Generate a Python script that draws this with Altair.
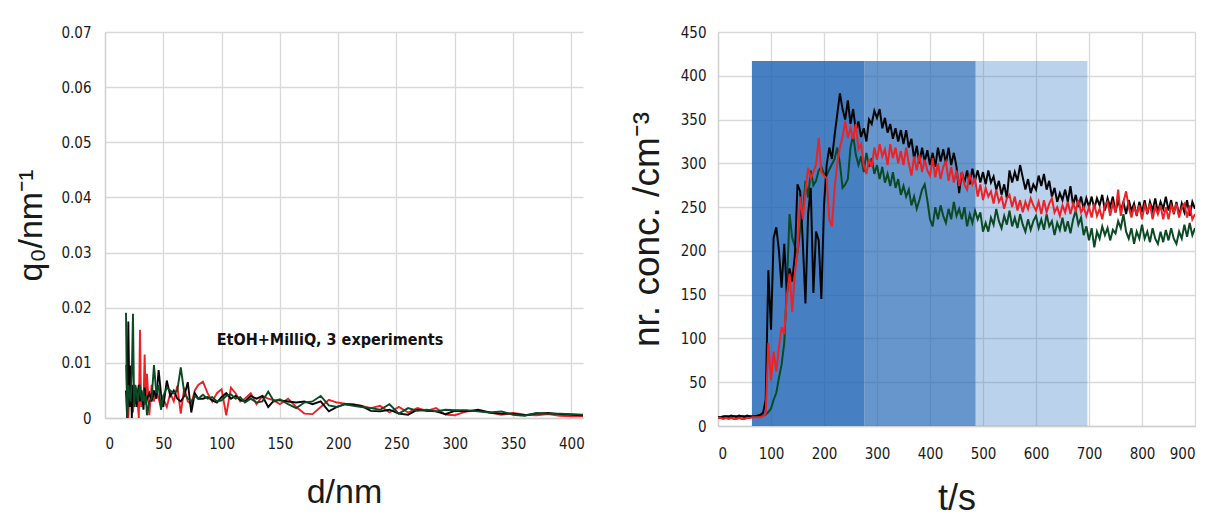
import altair as alt
import pandas as pd

# ---------------- left panel: q0 vs d ----------------
D_NM = [18, 19, 20, 21, 22, 23, 24, 25, 26, 27, 28, 29, 30, 31, 32, 33, 34, 35, 36,
        38, 40, 42, 44, 46, 48, 50,
        53, 56, 59, 62, 65, 68, 71, 74, 77, 80,
        84, 88, 92, 96, 100, 104, 108, 112, 116, 120,
        125, 130, 135, 140, 145, 150,
        157, 164, 171, 178, 185, 192, 199, 206, 213,
        220, 228, 236, 244, 252, 260, 268, 276, 284, 292, 300,
        310, 320, 330, 340, 350, 360, 370, 380, 390, 400, 410]

Q_BLACK = [0.005, 0.0, 0.0175, 0.002, 0.0095, 0.0, 0.006, 0.003, 0.005, 0.002, 0.0045, 0.006, 0.003, 0.005, 0.004, 0.0015, 0.0055, 0.0025, 0.0035,
           0.0045, 0.003, 0.005, 0.0035, 0.0087, 0.0045, 0.002,
           0.0068, 0.004, 0.005, 0.0035, 0.003, 0.004, 0.0065, 0.001, 0.0045, 0.0035,
           0.0035, 0.0038, 0.0032, 0.0028, 0.0038, 0.0045, 0.0035, 0.004, 0.0033, 0.003,
           0.004, 0.0035, 0.004, 0.002, 0.0032, 0.0032,
           0.003, 0.0028, 0.003, 0.0025, 0.003, 0.0012, 0.002, 0.0025, 0.0024,
           0.0022, 0.0013, 0.0012, 0.0015, 0.0008, 0.0006, 0.0015, 0.0013, 0.0012, 0.0007, 0.0013,
           0.0012, 0.0015, 0.001, 0.0008, 0.0008, 0.0005, 0.0008, 0.0009, 0.0007, 0.0006, 0.0005]

Q_RED = [0.0096, 0.004, 0.0, 0.005, 0.002, 0.006, 0.001, 0.004, 0.0025, 0.005, 0.003, 0.0, 0.016, 0.002, 0.004, 0.0025, 0.0115, 0.003, 0.008,
         0.0005, 0.006, 0.003, 0.005, 0.0035, 0.002, 0.0035,
         0.002, 0.0045, 0.003, 0.0058, 0.0008, 0.0055, 0.003, 0.0025, 0.005, 0.006,
         0.0066, 0.0045, 0.003, 0.0045, 0.0052, 0.0005, 0.0055, 0.0045, 0.003, 0.0035,
         0.0045, 0.0025, 0.004, 0.0035, 0.0032, 0.0025,
         0.0035, 0.002, 0.0008, 0.0007, 0.002, 0.0033, 0.0028, 0.0026, 0.0025,
         0.0022, 0.0018, 0.0022, 0.001, 0.002, 0.001, 0.0018, 0.0013, 0.0018, 0.0006, 0.0005,
         0.0012, 0.0013, 0.001, 0.0006, 0.0009, 0.0006, 0.0005, 0.0007, 0.0004, 0.0003, 0.0003]

Q_GREEN = [0.0191, 0.0, 0.006, 0.004, 0.003, 0.008, 0.0189, 0.002, 0.006, 0.005, 0.003, 0.0045, 0.006, 0.004, 0.003, 0.005, 0.0025, 0.004, 0.0005,
           0.003, 0.0035, 0.0096, 0.0045, 0.006, 0.0015, 0.004,
           0.0055, 0.005, 0.0045, 0.005, 0.0092, 0.0045, 0.0035, 0.003, 0.004, 0.0035,
           0.0042, 0.0035, 0.0038, 0.003, 0.0032, 0.004, 0.0043, 0.0035, 0.0038, 0.0028,
           0.0035, 0.0028, 0.003, 0.0048, 0.003, 0.0034,
           0.0025, 0.0018, 0.0028, 0.003, 0.004, 0.0023, 0.002, 0.0025, 0.0022,
           0.002, 0.0018, 0.0015, 0.0025, 0.0008, 0.0018, 0.0013, 0.0015, 0.0012, 0.0015, 0.0014,
           0.0014, 0.0012, 0.001, 0.0012, 0.0006, 0.0004, 0.0009, 0.0008, 0.0008, 0.0007, 0.0006]

LEFT_X_TICKS = [0, 50, 100, 150, 200, 250, 300, 350, 400]
LEFT_Y_TICKS = [0, 0.01, 0.02, 0.03, 0.04, 0.05, 0.06, 0.07]
ANNOT_TEXT = ["EtOH+MilliQ, 3 experiments"]
ANNOT_D = [193]
ANNOT_Q = [0.0141]

# ---------------- right panel: number concentration vs t ----------------
T_S = list(range(0, 905, 5))

C_BLACK = [10, 10, 11, 11, 11, 12, 11, 11, 12, 11,
           11, 12, 11, 11, 11, 12, 13, 15, 30, 178,
           110, 215, 227, 200, 158, 208, 150, 180, 165, 195,
           276, 268, 210, 140, 242, 272, 152, 222, 212, 145,
           252, 298, 318, 305, 332, 356, 380, 362, 350, 372,
           345, 362, 338, 348, 330, 340, 325, 350, 345, 360,
           352, 362, 340, 352, 335, 345, 328, 340, 325, 338,
           322, 338, 318, 328, 305, 320, 300, 318, 302, 315,
           298, 312, 296, 318, 302, 316, 300, 318, 298, 312,
           296, 266, 290, 278, 292, 276, 294, 280, 292, 278,
           290, 276, 292, 278, 285, 270, 280, 264, 276, 260,
           292, 278, 290, 280, 298, 284, 270, 282, 266, 276,
           270, 286, 274, 288, 270, 280, 262, 272, 256, 266,
           258, 270, 256, 274, 252, 264, 250, 262, 248, 260,
           250, 262, 248, 260, 252, 264, 246, 260, 250, 262,
           244, 258, 246, 256, 242, 258, 246, 254, 240, 256,
           244, 258, 242, 256, 246, 260, 244, 256, 248, 262,
           246, 258, 242, 256, 240, 254, 244, 258, 240, 256,
           248]

C_RED = [9, 9, 8, 9, 8, 9, 8, 8, 9, 8,
         8, 9, 9, 10, 10, 10, 10, 11, 14, 95,
         52, 85, 62, 90, 113, 105, 150, 174, 130, 175,
         198, 262, 236, 268, 295, 283, 290, 299, 329, 290,
         286, 283, 236, 228, 272, 300, 318, 330, 348, 329,
         340, 328, 345, 316, 322, 298, 288, 305, 296, 318,
         304, 322, 308, 316, 298, 322, 306, 318, 300, 314,
         298, 318, 300, 286, 308, 292, 310, 290, 304, 292,
         286, 306, 284, 300, 282, 296, 302, 280, 296, 278,
         292, 274, 290, 276, 270, 288, 276, 282, 262, 276,
         258, 272, 262, 268, 254, 270, 256, 262, 248, 260,
         264, 250, 262, 246, 258, 244, 256, 248, 260, 252,
         246, 256, 242, 258, 244, 254, 260, 244, 250, 240,
         252, 244, 256, 242, 254, 246, 258, 244, 250, 240,
         250, 238, 254, 240, 248, 236, 252, 256, 240, 254,
         244, 270, 240, 256, 268, 250, 238, 250, 242, 252,
         236, 252, 244, 254, 236, 250, 242, 252, 236, 250,
         236, 252, 244, 254, 238, 250, 254, 238, 252, 236,
         242]

C_GREEN = [10, 10, 10, 11, 10, 10, 11, 10, 10, 11,
           10, 10, 11, 10, 11, 11, 12, 12, 13, 16,
           20, 30, 38, 55, 70, 95, 160, 242, 215, 205,
           197, 225, 242, 280, 261, 292, 275, 280, 292, 296,
           288, 286, 293, 299, 305, 318, 300, 272, 276, 282,
           318, 332, 310, 298, 308, 290, 312, 296, 306, 288,
           298, 282, 296, 278, 288, 274, 290, 272, 282, 264,
           274, 262, 270, 252, 262, 248, 258, 270, 276, 258,
           236, 228, 250, 236, 252, 240, 232, 248, 236, 256,
           240, 248, 236, 250, 228, 242, 232, 246, 236, 244,
           222, 232, 222, 238, 230, 248, 234, 226, 240, 230,
           246, 228, 238, 226, 242, 230, 222, 236, 224, 234,
           240, 226, 236, 224, 242, 228, 234, 218, 232, 224,
           238, 222, 234, 220, 236, 246, 230, 238, 218, 228,
           212, 226, 204, 222, 214, 228, 218, 226, 212, 224,
           220, 234, 226, 242, 222, 214, 226, 208, 222, 214,
           230, 214, 222, 210, 226, 214, 208, 222, 210, 224,
           212, 226, 214, 208, 222, 214, 230, 216, 232, 218,
           226]

BAND_START = [64, 276, 486]
BAND_END = [276, 486, 697]
BAND_TOP = [417, 417, 417]
BAND_COLOR = ["#1e64b4", "#1e64b4", "#2a74c4"]
BAND_ALPHA = [0.82, 0.68, 0.32]

RIGHT_X_TICKS = [0, 100, 200, 300, 400, 500, 600, 700, 800, 900]
RIGHT_Y_TICKS = [0, 50, 100, 150, 200, 250, 300, 350, 400, 450]

RED = "#ec2227"
BLACK = "#050505"
GREEN = "#0b4a25"

LABEL_FONT = "Liberation Sans Narrow, DejaVu Sans Condensed, Lato, Liberation Sans, sans-serif"
TITLE_FONT = "Liberation Sans"

# ---------------- build left ----------------
def left_line(vals, color):
    df = pd.DataFrame({"d": D_NM, "q": vals})
    return alt.Chart(df).mark_line(color=color, strokeWidth=1.9, clip=True).encode(
        x=alt.X("d:Q", scale=alt.Scale(domain=[0, 410], nice=False),
                axis=alt.Axis(values=LEFT_X_TICKS, title="d/nm", labelPadding=18,
                              titlePadding=24, titleFontSize=34)),
        y=alt.Y("q:Q", scale=alt.Scale(domain=[0, 0.07], nice=False),
                axis=alt.Axis(values=LEFT_Y_TICKS, title="q₀/nm⁻¹",
                              labelExpr="datum.value == 0 ? '0' : format(datum.value, '.2f')",
                              labelPadding=14, titlePadding=12, titleFontSize=34)),
    )

annot = alt.Chart(pd.DataFrame({"d": ANNOT_D, "q": ANNOT_Q, "t": ANNOT_TEXT})).mark_text(
    font=LABEL_FONT, fontSize=16, fontWeight="bold", color="#111"
).encode(x="d:Q", y="q:Q", text="t:N")

left = alt.layer(
    left_line(Q_RED, RED),
    left_line(Q_BLACK, BLACK),
    left_line(Q_GREEN, GREEN),
    annot,
).properties(width=478, height=386)

# ---------------- build right ----------------
bands = pd.DataFrame({"s": BAND_START, "e": BAND_END, "top": BAND_TOP,
                      "bottom": [0, 0, 0], "c": BAND_COLOR, "a": BAND_ALPHA})
band_layer = alt.Chart(bands).mark_rect().encode(
    x=alt.X("s:Q", scale=alt.Scale(domain=[0, 900], nice=False),
            axis=alt.Axis(values=RIGHT_X_TICKS, title="t/s", labelPadding=20,
                          titlePadding=20, titleFontSize=36)),
    x2="e:Q",
    y=alt.Y("bottom:Q", scale=alt.Scale(domain=[0, 450], nice=False),
            axis=alt.Axis(values=RIGHT_Y_TICKS, title="nr. conc. /cm⁻³",
                          labelPadding=12, titlePadding=14, titleFontSize=37)),
    y2="top:Q",
    color=alt.Color("c:N", scale=None),
    opacity=alt.Opacity("a:Q", scale=None),
)

def right_line(vals, color):
    df = pd.DataFrame({"t": T_S, "v": vals})
    return alt.Chart(df).mark_line(color=color, strokeWidth=2.0, clip=True).encode(
        x=alt.X("t:Q"), y=alt.Y("v:Q"))

right = alt.layer(
    band_layer,
    right_line(C_GREEN, GREEN),
    right_line(C_BLACK, BLACK),
    right_line(C_RED, RED),
).properties(width=477, height=394)

chart = alt.hconcat(left, right, spacing=43).properties(
    padding={"left": 6, "top": 17, "right": 5, "bottom": 5},
    background="white",
).configure_view(stroke=None).configure_axis(
    grid=True,
    gridColor="#d9d9d9",
    gridWidth=1.3,
    domainColor="#d0d0d0",
    domainWidth=1.3,
    ticks=False,
    labelFont=LABEL_FONT,
    labelFontSize=15,
    labelColor="#1a1a1a",
    titleFont=TITLE_FONT,
    titleFontWeight="normal",
    titleColor="#1a1a1a",
)

chart.save("out.html", embed_options={"renderer": "svg", "actions": False})
